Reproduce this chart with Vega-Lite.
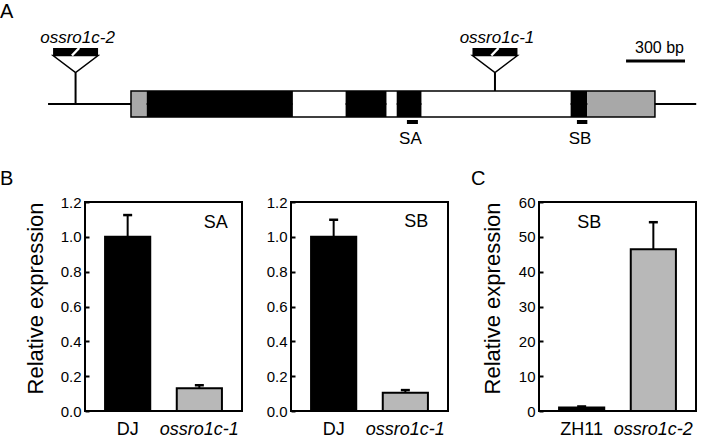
{
  "$schema": "https://vega.github.io/schema/vega-lite/v6.json",
  "padding": {"left": -1, "top": 2, "right": 0, "bottom": 0},
  "background": "white",
  "config": {
    "font": "Liberation Sans",
    "view": {"stroke": null},
    "axis": {"labelColor": "black", "titleColor": "black", "grid": false, "labelOverlap": false, "labelFlush": false},
    "title": {"color": "black", "fontWeight": "normal"}
  },
  "datasets": {
    "exprSA": [
      {"genotype": "DJ", "line": "wild type", "mean": 1.0, "upper": 1.125},
      {"genotype": "ossro1c-1", "line": "mutant", "mean": 0.13, "upper": 0.148}
    ],
    "exprSB": [
      {"genotype": "DJ", "line": "wild type", "mean": 1.0, "upper": 1.098},
      {"genotype": "ossro1c-1", "line": "mutant", "mean": 0.105, "upper": 0.12}
    ],
    "exprC": [
      {"genotype": "ZH11", "line": "wild type", "mean": 1.0, "upper": 1.3},
      {"genotype": "ossro1c-2", "line": "mutant", "mean": 46.4, "upper": 54.2}
    ],
    "locus": [{"start": -422, "end": 2876}],
    "transcript": [{"start": 0, "end": 2666}],
    "exons": [
      {"start": 0, "end": 80, "part": "UTR"},
      {"start": 80, "end": 824, "part": "CDS"},
      {"start": 824, "end": 1092, "part": "intron"},
      {"start": 1092, "end": 1301, "part": "CDS"},
      {"start": 1301, "end": 1352, "part": "intron"},
      {"start": 1352, "end": 1479, "part": "CDS"},
      {"start": 1479, "end": 2237, "part": "intron"},
      {"start": 2237, "end": 2322, "part": "CDS"},
      {"start": 2322, "end": 2666, "part": "UTR"}
    ],
    "insertions": [
      {"allele": "ossro1c-2", "pos": -282},
      {"allele": "ossro1c-1", "pos": 1852}
    ],
    "probes": [
      {"probe": "SA", "start": 1404, "end": 1460, "center": 1432},
      {"probe": "SB", "start": 2269, "end": 2322, "center": 2295}
    ],
    "scalebar": [{"label": "300 bp", "start": 2519, "end": 2819}]
  },
  "spacing": 46,
  "bounds": "flush",
  "vconcat": [
    {
      "width": 612,
      "height": 130,
      "title": {"text": "A", "anchor": "start", "frame": "group", "dx": -85, "offset": -12, "fontSize": 20, "baseline": "alphabetic"},
      "layer": [
        {
          "data": {"name": "locus"},
          "mark": {"type": "rule", "strokeWidth": 2, "color": "black"},
          "encoding": {
            "x": {"field": "start", "type": "quantitative", "scale": {"domain": [-234, 2880], "nice": false, "zero": false}, "axis": null},
            "x2": {"field": "end"},
            "y": {"datum": 0, "type": "quantitative", "scale": {"domain": [-4, 6], "nice": false, "zero": false}, "axis": null}
          }
        },
        {
          "data": {"name": "insertions"},
          "mark": {"type": "rule", "strokeWidth": 2, "color": "black"},
          "encoding": {
            "x": {"field": "pos", "type": "quantitative", "scale": {"domain": [-234, 2880], "nice": false, "zero": false}, "axis": null},
            "y": {"datum": 0, "type": "quantitative", "scale": {"domain": [-4, 6], "nice": false, "zero": false}, "axis": null},
            "y2": {"datum": 2.42}
          }
        },
        {
          "data": {"name": "exons"},
          "mark": {"type": "rect"},
          "encoding": {
            "x": {"field": "start", "type": "quantitative", "scale": {"domain": [-234, 2880], "nice": false, "zero": false}, "axis": null},
            "x2": {"field": "end"},
            "y": {"datum": -1, "type": "quantitative", "scale": {"domain": [-4, 6], "nice": false, "zero": false}, "axis": null},
            "y2": {"datum": 1},
            "color": {"field": "part", "type": "nominal", "scale": {"domain": ["UTR", "CDS", "intron"], "range": ["#a8a8a8", "#000000", "#ffffff"]}, "legend": null}
          }
        },
        {
          "data": {"name": "transcript"},
          "mark": {"type": "rect", "fillOpacity": 0, "stroke": "black", "strokeWidth": 1.5},
          "encoding": {
            "x": {"field": "start", "type": "quantitative", "scale": {"domain": [-234, 2880], "nice": false, "zero": false}, "axis": null},
            "x2": {"field": "end"},
            "y": {"datum": -1, "type": "quantitative", "scale": {"domain": [-4, 6], "nice": false, "zero": false}, "axis": null},
            "y2": {"datum": 1}
          }
        },
        {
          "data": {"name": "insertions"},
          "mark": {"type": "point", "shape": "M-1,-0.2L1,-0.2L0,0.556Z", "size": 2025, "filled": true, "fill": "white", "stroke": "black", "strokeWidth": 1.5, "opacity": 1},
          "encoding": {
            "x": {"field": "pos", "type": "quantitative", "scale": {"domain": [-234, 2880], "nice": false, "zero": false}, "axis": null},
            "y": {"datum": 3.385, "type": "quantitative", "scale": {"domain": [-4, 6], "nice": false, "zero": false}, "axis": null}
          }
        },
        {
          "data": {"name": "insertions"},
          "mark": {"type": "point", "shape": "M-1,-0.533L1,-0.533L1,-0.2L-1,-0.2Z", "size": 2025, "filled": true, "fill": "black", "strokeWidth": 0, "opacity": 1},
          "encoding": {
            "x": {"field": "pos", "type": "quantitative", "scale": {"domain": [-234, 2880], "nice": false, "zero": false}, "axis": null},
            "y": {"datum": 3.385, "type": "quantitative", "scale": {"domain": [-4, 6], "nice": false, "zero": false}, "axis": null}
          }
        },
        {
          "data": {"name": "insertions"},
          "mark": {"type": "point", "shape": "M-0.16,-0.2L0.16,-0.533", "size": 2025, "filled": false, "stroke": "white", "strokeWidth": 2.5, "opacity": 1},
          "encoding": {
            "x": {"field": "pos", "type": "quantitative", "scale": {"domain": [-234, 2880], "nice": false, "zero": false}, "axis": null},
            "y": {"datum": 3.385, "type": "quantitative", "scale": {"domain": [-4, 6], "nice": false, "zero": false}, "axis": null}
          }
        },
        {
          "data": {"name": "insertions"},
          "mark": {"type": "text", "fontStyle": "italic", "fontSize": 17, "baseline": "alphabetic", "align": "center", "dx": 2, "color": "black"},
          "encoding": {
            "x": {"field": "pos", "type": "quantitative", "scale": {"domain": [-234, 2880], "nice": false, "zero": false}, "axis": null},
            "y": {"datum": 4.69, "type": "quantitative", "scale": {"domain": [-4, 6], "nice": false, "zero": false}, "axis": null},
            "text": {"field": "allele"}
          }
        },
        {
          "data": {"name": "probes"},
          "mark": {"type": "rect", "color": "black"},
          "encoding": {
            "x": {"field": "start", "type": "quantitative", "scale": {"domain": [-234, 2880], "nice": false, "zero": false}, "axis": null},
            "x2": {"field": "end"},
            "y": {"datum": -1.23, "type": "quantitative", "scale": {"domain": [-4, 6], "nice": false, "zero": false}, "axis": null},
            "y2": {"datum": -1.54}
          }
        },
        {
          "data": {"name": "probes"},
          "mark": {"type": "text", "fontSize": 17, "baseline": "alphabetic", "align": "center", "dx": -2, "color": "black"},
          "encoding": {
            "x": {"field": "center", "type": "quantitative", "scale": {"domain": [-234, 2880], "nice": false, "zero": false}, "axis": null},
            "y": {"datum": -3.08, "type": "quantitative", "scale": {"domain": [-4, 6], "nice": false, "zero": false}, "axis": null},
            "text": {"field": "probe"}
          }
        },
        {
          "data": {"name": "scalebar"},
          "mark": {"type": "rule", "strokeWidth": 3, "color": "black"},
          "encoding": {
            "x": {"field": "start", "type": "quantitative", "scale": {"domain": [-234, 2880], "nice": false, "zero": false}, "axis": null},
            "x2": {"field": "end"},
            "y": {"datum": 3.31, "type": "quantitative", "scale": {"domain": [-4, 6], "nice": false, "zero": false}, "axis": null}
          }
        },
        {
          "data": {"name": "scalebar"},
          "mark": {"type": "text", "fontSize": 16, "baseline": "alphabetic", "align": "right", "dx": -1, "color": "black"},
          "encoding": {
            "x": {"field": "end", "type": "quantitative", "scale": {"domain": [-234, 2880], "nice": false, "zero": false}, "axis": null},
            "y": {"datum": 3.96, "type": "quantitative", "scale": {"domain": [-4, 6], "nice": false, "zero": false}, "axis": null},
            "text": {"field": "label"}
          }
        }
      ]
    },
    {
      "spacing": 0,
      "bounds": "flush",
      "hconcat": [
        {
          "width": 157,
          "height": 209,
          "view": {"stroke": "black", "strokeWidth": 2},
          "title": {"text": "B", "anchor": "start", "frame": "group", "dx": -85, "offset": -10, "fontSize": 20, "baseline": "alphabetic"},
          "data": {"name": "exprSA"},
          "encoding": {
            "x": {"field": "genotype", "type": "nominal", "sort": null, "scale": {"paddingInner": 0.37, "paddingOuter": 0.28},
              "axis": {"title": null, "domain": false, "ticks": false, "labelFontSize": 18, "labelPadding": 9, "labelAngle": 0, "labelColor": "black",
                "labelFontStyle": {"condition": {"test": "datum.value === 'DJ' || datum.value === 'ZH11'", "value": "normal"}, "value": "italic"}}}
          },
          "layer": [
            {
              "mark": {"type": "rule", "strokeWidth": 2, "color": "black"},
              "encoding": {
                "y": {"field": "mean", "type": "quantitative", "scale": {"domain": [0, 1.2], "nice": false},
                  "axis": {"title": "Relative expression", "titleFontSize": 22, "titleFontWeight": "normal", "titleAnchor": "end", "titlePadding": 13,
                    "values": [0, 0.2, 0.4, 0.6, 0.8, 1, 1.2], "format": ".1f", "labelFontSize": 15, "labelPadding": 4, "offset": -4, "tickSize": 4, "tickWidth": 2,
                    "tickColor": "black", "domain": false, "labelFlush": false, "labelOverlap": false}},
                "y2": {"field": "upper"}
              }
            },
            {
              "mark": {"type": "bar", "stroke": "black", "strokeWidth": 2},
              "encoding": {
                "y": {"field": "mean", "type": "quantitative",
                  "axis": {"title": "Relative expression", "titleFontSize": 22, "titleFontWeight": "normal", "titleAnchor": "end", "titlePadding": 13,
                    "values": [0, 0.2, 0.4, 0.6, 0.8, 1, 1.2], "format": ".1f", "labelFontSize": 15, "labelPadding": 4, "offset": -4, "tickSize": 4, "tickWidth": 2,
                    "tickColor": "black", "domain": false, "labelFlush": false, "labelOverlap": false}},
                "fill": {"field": "line", "type": "nominal", "scale": {"domain": ["wild type", "mutant"], "range": ["#000000", "#b8b8b8"]}, "legend": null}
              }
            },
            {
              "mark": {"type": "tick", "size": 9, "thickness": 2.5, "color": "black", "opacity": 1},
              "encoding": {"y": {"field": "upper", "type": "quantitative",
                  "axis": {"title": "Relative expression", "titleFontSize": 22, "titleFontWeight": "normal", "titleAnchor": "end", "titlePadding": 13,
                    "values": [0, 0.2, 0.4, 0.6, 0.8, 1, 1.2], "format": ".1f", "labelFontSize": 15, "labelPadding": 4, "offset": -4, "tickSize": 4, "tickWidth": 2,
                    "tickColor": "black", "domain": false, "labelFlush": false, "labelOverlap": false}}}
            },
            {
              "data": {"values": [{"probe": "SA"}]},
              "mark": {"type": "text", "fontSize": 18, "baseline": "alphabetic", "align": "center", "dx": 16.5, "color": "black"},
              "encoding": {
                "x": {"datum": "ossro1c-1", "type": "nominal",
                  "axis": {"title": null, "domain": false, "ticks": false, "labelFontSize": 18, "labelPadding": 9, "labelAngle": 0, "labelColor": "black",
                    "labelFontStyle": {"condition": {"test": "datum.value === 'DJ' || datum.value === 'ZH11'", "value": "normal"}, "value": "italic"}}},
                "y": {"datum": 1.05, "type": "quantitative",
                  "axis": {"title": "Relative expression", "titleFontSize": 22, "titleFontWeight": "normal", "titleAnchor": "end", "titlePadding": 13,
                    "values": [0, 0.2, 0.4, 0.6, 0.8, 1, 1.2], "format": ".1f", "labelFontSize": 15, "labelPadding": 4, "offset": -4, "tickSize": 4, "tickWidth": 2,
                    "tickColor": "black", "domain": false, "labelFlush": false, "labelOverlap": false}},
                "text": {"field": "probe"}
              }
            }
          ]
        },
        {"width": 49, "height": 209, "data": {"values": []}, "mark": "point"},
        {
          "width": 157,
          "height": 209,
          "view": {"stroke": "black", "strokeWidth": 2},
          "data": {"name": "exprSB"},
          "encoding": {
            "x": {"field": "genotype", "type": "nominal", "sort": null, "scale": {"paddingInner": 0.37, "paddingOuter": 0.28},
              "axis": {"title": null, "domain": false, "ticks": false, "labelFontSize": 18, "labelPadding": 9, "labelAngle": 0, "labelColor": "black",
                "labelFontStyle": {"condition": {"test": "datum.value === 'DJ' || datum.value === 'ZH11'", "value": "normal"}, "value": "italic"}}}
          },
          "layer": [
            {
              "mark": {"type": "rule", "strokeWidth": 2, "color": "black"},
              "encoding": {
                "y": {"field": "mean", "type": "quantitative", "scale": {"domain": [0, 1.2], "nice": false},
                  "axis": {"title": null,
                    "values": [0, 0.2, 0.4, 0.6, 0.8, 1, 1.2], "format": ".1f", "labelFontSize": 15, "labelPadding": 4, "offset": -4, "tickSize": 4, "tickWidth": 2,
                    "tickColor": "black", "domain": false, "labelFlush": false, "labelOverlap": false}},
                "y2": {"field": "upper"}
              }
            },
            {
              "mark": {"type": "bar", "stroke": "black", "strokeWidth": 2},
              "encoding": {
                "y": {"field": "mean", "type": "quantitative",
                  "axis": {"title": null,
                    "values": [0, 0.2, 0.4, 0.6, 0.8, 1, 1.2], "format": ".1f", "labelFontSize": 15, "labelPadding": 4, "offset": -4, "tickSize": 4, "tickWidth": 2,
                    "tickColor": "black", "domain": false, "labelFlush": false, "labelOverlap": false}},
                "fill": {"field": "line", "type": "nominal", "scale": {"domain": ["wild type", "mutant"], "range": ["#000000", "#b8b8b8"]}, "legend": null}
              }
            },
            {
              "mark": {"type": "tick", "size": 9, "thickness": 2.5, "color": "black", "opacity": 1},
              "encoding": {"y": {"field": "upper", "type": "quantitative",
                  "axis": {"title": null,
                    "values": [0, 0.2, 0.4, 0.6, 0.8, 1, 1.2], "format": ".1f", "labelFontSize": 15, "labelPadding": 4, "offset": -4, "tickSize": 4, "tickWidth": 2,
                    "tickColor": "black", "domain": false, "labelFlush": false, "labelOverlap": false}}}
            },
            {
              "data": {"values": [{"probe": "SB"}]},
              "mark": {"type": "text", "fontSize": 18, "baseline": "alphabetic", "align": "center", "dx": 11, "color": "black"},
              "encoding": {
                "x": {"datum": "ossro1c-1", "type": "nominal",
                  "axis": {"title": null, "domain": false, "ticks": false, "labelFontSize": 18, "labelPadding": 9, "labelAngle": 0, "labelColor": "black",
                    "labelFontStyle": {"condition": {"test": "datum.value === 'DJ' || datum.value === 'ZH11'", "value": "normal"}, "value": "italic"}}},
                "y": {"datum": 1.056, "type": "quantitative",
                  "axis": {"title": null,
                    "values": [0, 0.2, 0.4, 0.6, 0.8, 1, 1.2], "format": ".1f", "labelFontSize": 15, "labelPadding": 4, "offset": -4, "tickSize": 4, "tickWidth": 2,
                    "tickColor": "black", "domain": false, "labelFlush": false, "labelOverlap": false}},
                "text": {"field": "probe"}
              }
            }
          ]
        },
        {"width": 91, "height": 209, "data": {"values": []}, "mark": "point"},
        {
          "width": 157,
          "height": 209,
          "view": {"stroke": "black", "strokeWidth": 2},
          "title": {"text": "C", "anchor": "start", "frame": "group", "dx": -68, "offset": -10, "fontSize": 20, "baseline": "alphabetic"},
          "data": {"name": "exprC"},
          "encoding": {
            "x": {"field": "genotype", "type": "nominal", "sort": null, "scale": {"paddingInner": 0.37, "paddingOuter": 0.28},
              "axis": {"title": null, "domain": false, "ticks": false, "labelFontSize": 18, "labelPadding": 9, "labelAngle": 0, "labelColor": "black",
                "labelFontStyle": {"condition": {"test": "datum.value === 'DJ' || datum.value === 'ZH11'", "value": "normal"}, "value": "italic"}}}
          },
          "layer": [
            {
              "mark": {"type": "rule", "strokeWidth": 2, "color": "black"},
              "encoding": {
                "y": {"field": "mean", "type": "quantitative", "scale": {"domain": [0, 60], "nice": false},
                  "axis": {"title": "Relative expression", "titleFontSize": 22, "titleFontWeight": "normal", "titleAnchor": "end", "titlePadding": 14,
                    "values": [0, 10, 20, 30, 40, 50, 60], "format": "d", "labelFontSize": 15, "labelPadding": 4, "offset": -4, "tickSize": 4, "tickWidth": 2,
                    "tickColor": "black", "domain": false, "labelFlush": false, "labelOverlap": false}},
                "y2": {"field": "upper"}
              }
            },
            {
              "mark": {"type": "bar", "stroke": "black", "strokeWidth": 2},
              "encoding": {
                "y": {"field": "mean", "type": "quantitative",
                  "axis": {"title": "Relative expression", "titleFontSize": 22, "titleFontWeight": "normal", "titleAnchor": "end", "titlePadding": 14,
                    "values": [0, 10, 20, 30, 40, 50, 60], "format": "d", "labelFontSize": 15, "labelPadding": 4, "offset": -4, "tickSize": 4, "tickWidth": 2,
                    "tickColor": "black", "domain": false, "labelFlush": false, "labelOverlap": false}},
                "fill": {"field": "line", "type": "nominal", "scale": {"domain": ["wild type", "mutant"], "range": ["#000000", "#b8b8b8"]}, "legend": null}
              }
            },
            {
              "mark": {"type": "tick", "size": 9, "thickness": 2.5, "color": "black", "opacity": 1},
              "encoding": {"y": {"field": "upper", "type": "quantitative",
                  "axis": {"title": "Relative expression", "titleFontSize": 22, "titleFontWeight": "normal", "titleAnchor": "end", "titlePadding": 14,
                    "values": [0, 10, 20, 30, 40, 50, 60], "format": "d", "labelFontSize": 15, "labelPadding": 4, "offset": -4, "tickSize": 4, "tickWidth": 2,
                    "tickColor": "black", "domain": false, "labelFlush": false, "labelOverlap": false}}}
            },
            {
              "data": {"values": [{"probe": "SB"}]},
              "mark": {"type": "text", "fontSize": 18, "baseline": "alphabetic", "align": "center", "dx": 7.6, "color": "black"},
              "encoding": {
                "x": {"datum": "ZH11", "type": "nominal",
                  "axis": {"title": null, "domain": false, "ticks": false, "labelFontSize": 18, "labelPadding": 9, "labelAngle": 0, "labelColor": "black",
                    "labelFontStyle": {"condition": {"test": "datum.value === 'DJ' || datum.value === 'ZH11'", "value": "normal"}, "value": "italic"}}},
                "y": {"datum": 52.5, "type": "quantitative",
                  "axis": {"title": "Relative expression", "titleFontSize": 22, "titleFontWeight": "normal", "titleAnchor": "end", "titlePadding": 14,
                    "values": [0, 10, 20, 30, 40, 50, 60], "format": "d", "labelFontSize": 15, "labelPadding": 4, "offset": -4, "tickSize": 4, "tickWidth": 2,
                    "tickColor": "black", "domain": false, "labelFlush": false, "labelOverlap": false}},
                "text": {"field": "probe"}
              }
            }
          ]
        }
      ]
    }
  ]
}
